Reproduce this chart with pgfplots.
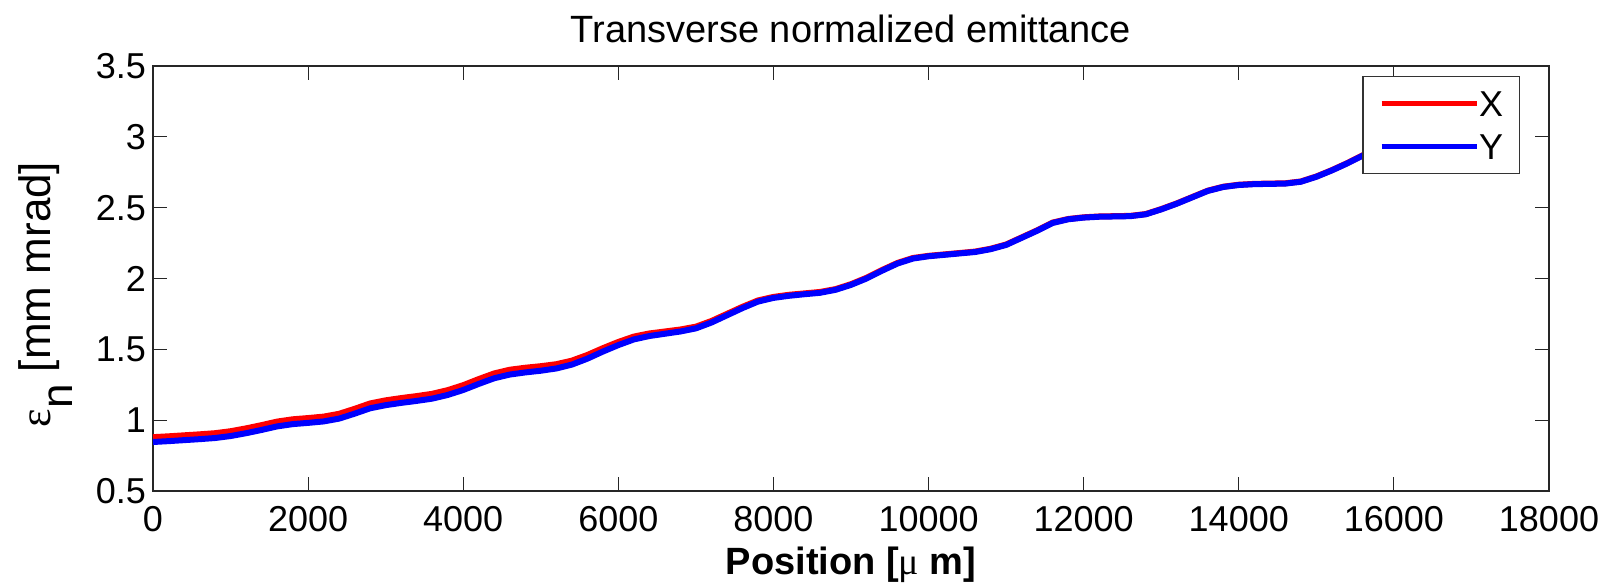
\documentclass[border=0pt]{standalone}
\usepackage{fontspec}
\setmainfont{Liberation Sans}
\newfontfamily\symf{Liberation Serif}
\usepackage{pgfplots}
\pgfplotsset{compat=1.18}
\usepackage{pgfplotstable}

\pgfplotstableread{
x X Y
0 0.880 0.846
200 0.886 0.852
400 0.893 0.859
600 0.900 0.866
800 0.908 0.874
1000 0.922 0.888
1200 0.942 0.908
1400 0.965 0.931
1600 0.990 0.956
1800 1.006 0.972
2000 1.015 0.981
2200 1.025 0.991
2400 1.045 1.011
2600 1.080 1.046
2800 1.118 1.084
3000 1.140 1.106
3200 1.156 1.122
3400 1.170 1.136
3600 1.186 1.152
3800 1.212 1.178
4000 1.247 1.213
4200 1.290 1.256
4400 1.330 1.296
4600 1.356 1.322
4800 1.370 1.337
5000 1.381 1.349
5200 1.395 1.365
5400 1.420 1.392
5600 1.460 1.434
5800 1.508 1.484
6000 1.552 1.530
6200 1.590 1.570
6400 1.612 1.594
6600 1.626 1.610
6800 1.640 1.626
7000 1.660 1.648
7200 1.700 1.689
7400 1.750 1.740
7600 1.800 1.791
7800 1.845 1.837
8000 1.870 1.863
8200 1.885 1.878
8400 1.895 1.889
8600 1.905 1.899
8800 1.925 1.920
9000 1.960 1.955
9200 2.005 2.000
9400 2.060 2.055
9600 2.110 2.106
9800 2.145 2.141
10000 2.160 2.157
10200 2.170 2.167
10400 2.180 2.177
10600 2.190 2.187
10800 2.210 2.207
11000 2.240 2.237
11200 2.290 2.287
11400 2.340 2.337
11600 2.395 2.392
11800 2.420 2.418
12000 2.432 2.430
12200 2.438 2.436
12400 2.440 2.438
12600 2.442 2.440
12800 2.455 2.453
13000 2.490 2.488
13200 2.530 2.528
13400 2.575 2.573
13600 2.620 2.618
13800 2.648 2.646
14000 2.662 2.660
14200 2.668 2.666
14400 2.670 2.668
14600 2.672 2.670
14800 2.685 2.683
15000 2.720 2.718
15200 2.765 2.763
15400 2.815 2.813
15600 2.870 2.868
15800 2.920 2.918
16000 2.955 2.953
16200 2.975 2.973
}\emit

\begin{document}
\begin{tikzpicture}
\path[use as bounding box] (-76.5pt,-47.5pt) rectangle (727pt,245.5pt);
\begin{axis}[
  at={(0,0)}, anchor=south west,
  scale only axis, width=698pt, height=212.5pt,
  xmin=0, xmax=18000, ymin=0.5, ymax=3.5,
  xtick={0,2000,4000,6000,8000,10000,12000,14000,16000,18000},
  ytick={0.5,1,1.5,2,2.5,3,3.5},
  scaled x ticks=false, scaled y ticks=false,
  /pgf/number format/1000 sep={},
  /pgf/number format/assume math mode=true,
  tick label style={font=\fontsize{18}{18}\selectfont},
  xticklabel style={yshift=-4pt},
  axis line style={black!85, line width=0.6pt},
  every tick/.style={black!85, line width=0.6pt},
  major tick length=7pt, tick align=inside,
  title={Transverse normalized emittance},
  title style={font=\fontsize{19}{19}\selectfont, at={(axis description cs:0.5,1.0282)}, anchor=base, inner sep=0pt},
  xlabel={Position [{\symf\mdseries μ} m]},
  xlabel style={font=\bfseries\fontsize{19}{19}\selectfont, at={(axis description cs:0.5,-0.19529)}, anchor=base, inner sep=0pt},
  ylabel={{\symf ε}\raisebox{-11pt}{n} [mm mrad]},
  ylabel style={font=\fontsize{22}{22}\selectfont, at={(axis description cs:-0.07378,0.4624)}, anchor=base, inner sep=0pt},
  legend image code/.code={\draw[#1,line width=2.5pt] (0pt,0pt) -- (47.5pt,0pt);},
  legend style={at={(axis description cs:0.979,0.9765)}, anchor=north east,
    draw=black!80, line width=0.6pt, fill=white,
    inner xsep=8pt, inner ysep=7pt, row sep=8.5pt,
    font=\fontsize{18}{18}\selectfont,
    nodes={inner sep=0pt, text height=13pt, text depth=0pt},
    /tikz/every even column/.append style={column sep=4.5pt}},
  legend cell align=left,
]
\addplot[red, line width=3pt, line join=round] table[x=x, y=X] {\emit};
\addlegendentry{X}
\addplot[blue, line width=3pt, line join=round] table[x=x, y=Y] {\emit};
\addlegendentry{Y}
\end{axis}
\end{tikzpicture}
\end{document}
